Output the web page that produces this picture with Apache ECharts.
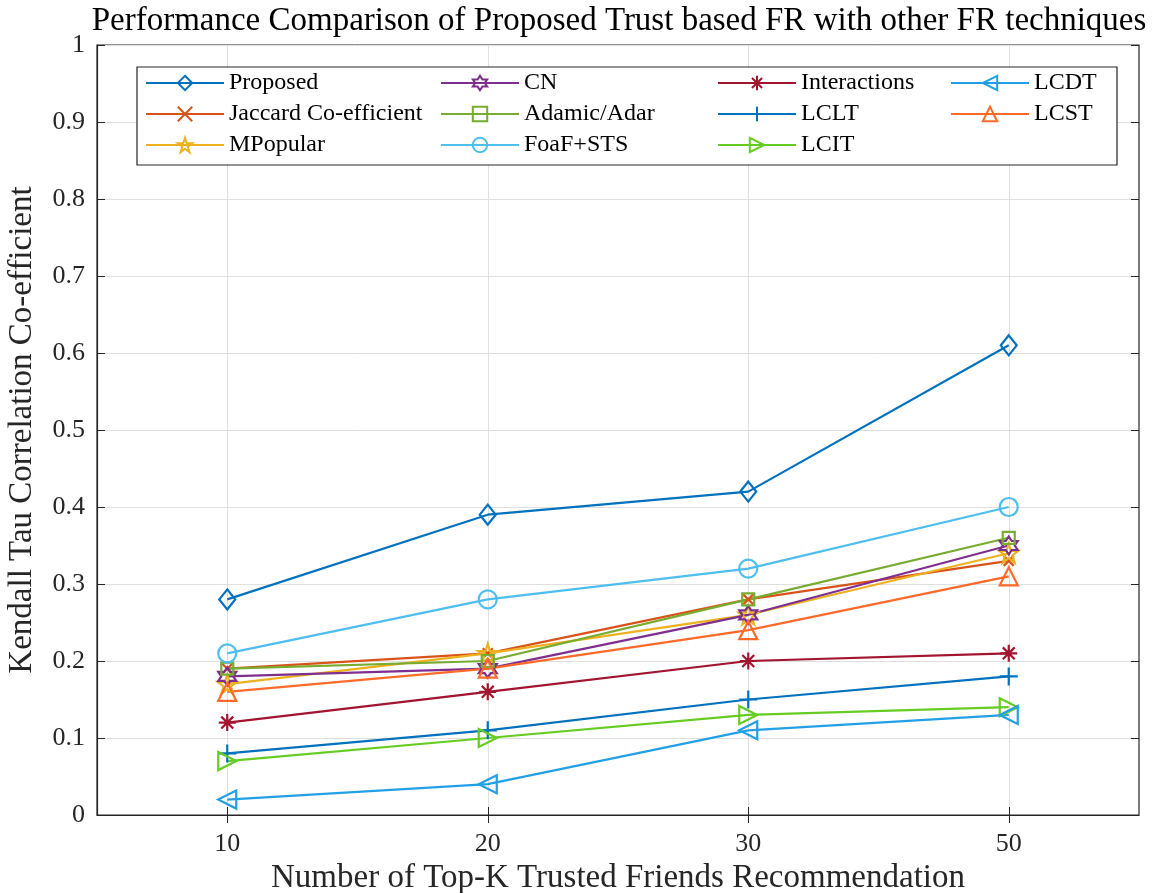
<!DOCTYPE html>
<html>
<head>
<meta charset="utf-8">
<title>Performance Comparison</title>
<script src="https://cdn.jsdelivr.net/npm/echarts@6/dist/echarts.min.js"></script>
<style>
  html, body { margin: 0; padding: 0; background: #ffffff; }
  #chart { width: 1161px; height: 893px; }
</style>
</head>
<body>
<div id="chart"></div>
<script>
// Top-K sizes on the x axis
const categories = ['10', '20', '30', '50'];

// Kendall tau correlation per technique
const proposed     = [0.28, 0.39, 0.42, 0.61];
const jaccard      = [0.19, 0.21, 0.28, 0.33];
const mpopular     = [0.17, 0.21, 0.26, 0.34];
const cn           = [0.18, 0.19, 0.26, 0.35];
const adamicAdar   = [0.19, 0.20, 0.28, 0.36];
const foafSts      = [0.21, 0.28, 0.32, 0.40];
const interactions = [0.12, 0.16, 0.20, 0.21];
const lclt         = [0.08, 0.11, 0.15, 0.18];
const lcit         = [0.07, 0.10, 0.13, 0.14];
const lcdt         = [0.02, 0.04, 0.11, 0.13];
const lcst         = [0.16, 0.19, 0.24, 0.31];

const yTicks = [0, 0.1, 0.2, 0.3, 0.4, 0.5, 0.6, 0.7, 0.8, 0.9, 1];

const FONT = 'Liberation Serif';

// Outline marker shapes
const SYM = {
  diamond: 'path://M5,0L9,6.5L5,13L1,6.5Z',
  cross: 'path://M0,0L10,10M0,10L10,0',
  pentagram: 'path://M5,0L6.12,3.46L9.76,3.46L6.82,5.59L7.94,9.05L5,6.91L2.06,9.05L3.18,5.59L0.24,3.46L3.88,3.46Z',
  hexagram: 'path://M5,0L6.44,2.5L9.33,2.5L7.89,5L9.33,7.5L6.44,7.5L5,10L3.56,7.5L0.67,7.5L2.11,5L0.67,2.5L3.56,2.5Z',
  square: 'path://M0,0L10,0L10,10L0,10Z',
  circle: 'circle',
  asterisk: 'path://M5,0L5,10M0,5L10,5M1.5,1.5L8.5,8.5M1.5,8.5L8.5,1.5',
  plus: 'path://M5,0L5,10M0,5L10,5',
  triRight: 'path://M0,0L10,5L0,10Z',
  triLeft: 'path://M10,0L0,5L10,10Z',
  triUp: 'path://M5,0L10,9L0,9Z'
};

const seriesDefs = [
  { name: 'Proposed',             data: proposed,     color: '#0072BD', symbol: SYM.diamond,   size: [16, 20] },
  { name: 'Jaccard Co-efficient', data: jaccard,      color: '#D95319', symbol: SYM.cross,     size: 10 },
  { name: 'MPopular',             data: mpopular,     color: '#EDB120', symbol: SYM.pentagram, size: 19 },
  { name: 'CN',                   data: cn,           color: '#7E2F8E', symbol: SYM.hexagram,  size: 18 },
  { name: 'Adamic/Adar',          data: adamicAdar,   color: '#77AC30', symbol: SYM.square,    size: 12 },
  { name: 'FoaF+STS',             data: foafSts,      color: '#4DBEEE', symbol: SYM.circle,    size: 18 },
  { name: 'Interactions',         data: interactions, color: '#A2142F', symbol: SYM.asterisk,  size: 17 },
  { name: 'LCLT',                 data: lclt,         color: '#0072BD', symbol: SYM.plus,      size: 18 },
  { name: 'LCIT',                 data: lcit,         color: '#66CC22', symbol: SYM.triRight,  size: 18 },
  { name: 'LCDT',                 data: lcdt,         color: '#22A0E6', symbol: SYM.triLeft,   size: 18 },
  { name: 'LCST',                 data: lcst,         color: '#FF6A2A', symbol: SYM.triUp,     size: 18 }
];

const series = seriesDefs.map(d => ({
  name: d.name,
  type: 'line',
  data: d.data.map((v, i) => [i + 1, v]),
  color: d.color,
  symbol: d.symbol,
  symbolSize: d.size,
  showAllSymbol: true,
  lineStyle: { width: 2.2, color: d.color },
  itemStyle: { color: 'rgba(0,0,0,0)', borderColor: d.color, borderWidth: 2.2 },
  emphasis: { disabled: true },
  animation: false
}));

// Legend laid out in columns of three
const legendCols = [
  { left: 145, names: ['Proposed', 'Jaccard Co-efficient', 'MPopular'] },
  { left: 440, names: ['CN', 'Adamic/Adar', 'FoaF+STS'] },
  { left: 717, names: ['Interactions', 'LCLT', 'LCIT'] },
  { left: 950, names: ['LCDT', 'LCST'] }
];

const legends = legendCols.map(c => ({
  orient: 'vertical',
  left: c.left,
  top: 71,
  padding: 0,
  itemWidth: 78,
  itemHeight: 18,
  itemGap: 7,
  selectedMode: false,
  data: c.names,
  textStyle: { fontFamily: FONT, fontSize: 24, color: '#000', lineHeight: 23, padding: [0, 0, 0, 0] }
}));

const tickIdx = categories.map((c, i) => i + 1);
const axisColor = '#262626';

const option = {
  backgroundColor: '#ffffff',
  animation: false,
  legend: legends,
  grid: {
    left: 97, right: 22, top: 45, bottom: 78,
    containLabel: false, outerBoundsMode: 'none',
    show: true, borderColor: axisColor, borderWidth: 1.2, backgroundColor: 'transparent'
  },
  xAxis: [
    {
      type: 'value', min: 0.5, max: 4.5,
      axisLine: { show: true, lineStyle: { color: axisColor, width: 1.2 } },
      axisTick: { show: true, inside: true, length: 8, customValues: tickIdx, lineStyle: { color: axisColor } },
      axisLabel: {
        customValues: tickIdx, margin: 16,
        formatter: v => categories[Math.round(v) - 1],
        fontFamily: FONT, fontSize: 26, color: '#262626'
      },
      splitLine: { show: true, lineStyle: { color: '#DFDFDF', width: 1 } },
      name: 'Number of Top-K Trusted Friends Recommendation',
      nameLocation: 'middle', nameGap: 46,
      nameTextStyle: { fontFamily: FONT, fontSize: 33, color: '#262626' }
    },
    {
      type: 'value', min: 0.5, max: 4.5, position: 'top',
      axisLine: { show: false },
      axisTick: { show: true, inside: true, length: 8, customValues: tickIdx, lineStyle: { color: axisColor } },
      axisLabel: { show: false, customValues: tickIdx },
      splitLine: { show: false }
    }
  ],
  yAxis: [
    {
      type: 'value', min: 0, max: 1, interval: 0.1,
      axisLine: { show: true, lineStyle: { color: axisColor, width: 1.2 } },
      axisTick: { show: true, inside: true, length: 8, lineStyle: { color: axisColor } },
      axisLabel: {
        margin: 12, fontFamily: FONT, fontSize: 26, color: '#262626',
        formatter: v => String(yTicks[Math.round(v * 10)])
      },
      splitLine: { show: true, lineStyle: { color: '#DFDFDF', width: 1 } },
      name: 'Kendall Tau Correlation Co-efficient',
      nameLocation: 'middle', nameGap: 58,
      nameTextStyle: { fontFamily: FONT, fontSize: 33, color: '#262626' }
    },
    {
      type: 'value', min: 0, max: 1, interval: 0.1, position: 'right',
      axisLine: { show: false },
      axisTick: { show: true, inside: true, length: 8, lineStyle: { color: axisColor } },
      axisLabel: { show: false },
      splitLine: { show: false }
    }
  ],
  graphic: [
    {
      type: 'rect', silent: true, z: 1,
      shape: { x: 137, y: 67, width: 980, height: 98 },
      style: { fill: '#ffffff', stroke: axisColor, lineWidth: 1.2 }
    },
    {
      type: 'text', silent: true,
      style: {
        text: 'Performance Comparison of Proposed Trust based FR with other FR techniques',
        x: 619, y: 5, textAlign: 'center', textVerticalAlign: 'top',
        font: '33px "Liberation Serif"', fill: '#000'
      }
    }
  ],
  series: series
};

const chart = echarts.init(document.getElementById('chart'), null, { renderer: 'canvas' });
chart.setOption(option);
</script>
</body>
</html>
